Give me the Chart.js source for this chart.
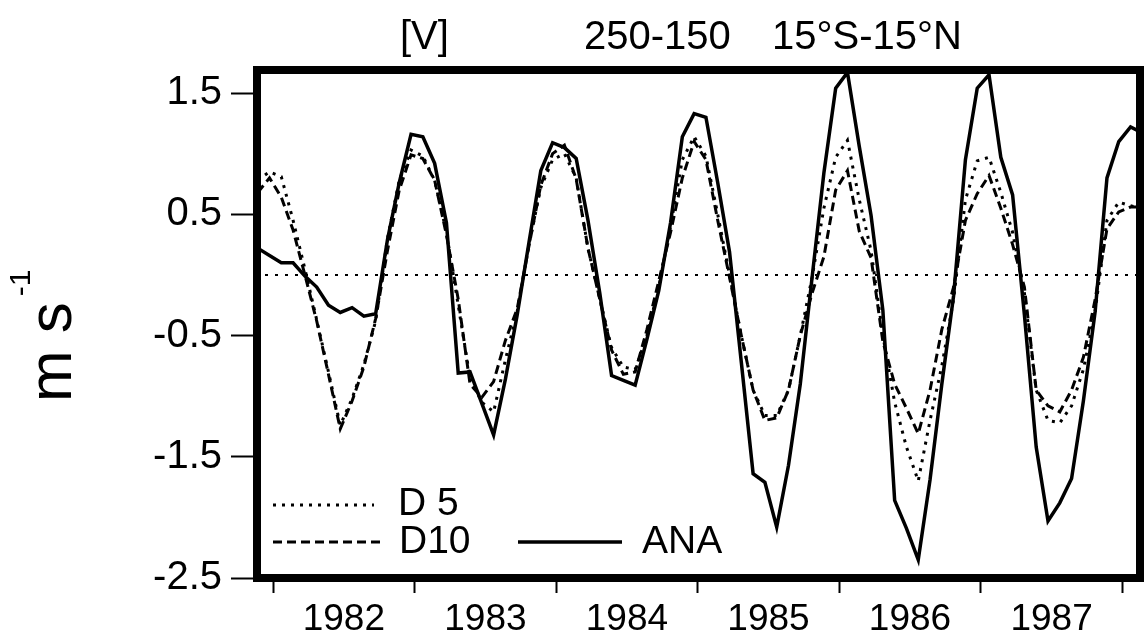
<!DOCTYPE html>
<html><head><meta charset="utf-8">
<script src="https://cdn.jsdelivr.net/npm/chart.js@4/dist/chart.umd.min.js"></script>
<style>html,body{margin:0;padding:0;background:#fff;}#wrap{width:1145px;height:641px;}</style>
</head><body><div id="wrap"><canvas id="c" width="1145" height="641"></canvas></div>
<script>
// months counted from January 1982; first value is November 1981
const startMonth = -2;
const ana = [0.22,0.16,0.10,0.10,-0.01,-0.10,-0.25,-0.31,-0.27,-0.34,-0.32,0.29,0.76,1.16,1.14,0.92,0.43,-0.81,-0.80,-1.06,-1.32,-0.86,-0.33,0.27,0.86,1.09,1.05,0.96,0.45,-0.15,-0.83,-0.87,-0.91,-0.53,-0.13,0.43,1.14,1.33,1.30,0.76,0.19,-0.72,-1.64,-1.71,-2.08,-1.57,-0.90,-0.02,0.84,1.54,1.67,1.06,0.49,-0.29,-1.86,-2.09,-2.35,-1.69,-0.90,-0.17,0.95,1.54,1.65,0.97,0.66,-0.33,-1.42,-2.03,-1.88,-1.68,-1.04,-0.30,0.80,1.10,1.22,1.17];
const d5 = [0.78,0.85,0.81,0.45,0.05,-0.37,-0.80,-1.24,-1.02,-0.74,-0.38,0.30,0.78,1.03,0.98,0.78,0.35,-0.25,-0.85,-1.05,-1.13,-0.70,-0.30,0.25,0.72,0.95,1.00,0.80,0.22,-0.20,-0.60,-0.76,-0.78,-0.50,-0.10,0.40,0.95,1.14,0.98,0.50,0.00,-0.50,-0.95,-1.16,-1.16,-0.95,-0.50,-0.02,0.55,0.97,1.11,0.62,0.20,-0.50,-1.05,-1.42,-1.70,-1.20,-0.75,-0.20,0.62,0.94,0.97,0.68,0.35,-0.15,-0.95,-1.20,-1.22,-1.08,-0.78,-0.30,0.45,0.60,0.57,0.55];
const d10 = [0.68,0.80,0.64,0.37,0.00,-0.38,-0.82,-1.27,-1.04,-0.76,-0.36,0.20,0.70,0.99,0.96,0.78,0.33,-0.20,-0.90,-1.01,-0.88,-0.54,-0.28,0.24,0.74,1.00,1.07,0.79,0.22,-0.20,-0.62,-0.82,-0.80,-0.45,-0.05,0.35,0.80,1.10,0.95,0.45,-0.02,-0.50,-0.95,-1.20,-1.18,-0.95,-0.50,-0.15,0.15,0.70,0.86,0.36,0.14,-0.55,-0.90,-1.10,-1.31,-0.95,-0.45,-0.10,0.45,0.67,0.82,0.55,0.25,-0.10,-0.95,-1.08,-1.13,-0.95,-0.68,-0.20,0.38,0.52,0.56,0.56];
const seriesNames = ['D 5','D10','ANA'];
const yearTicks = [0,12,24,36,48,60,72];
const yearLabels = ['1982','1983','1984','1985','1986','1987'];
const yTicks = [-2.5,-1.5,-0.5,0.5,1.5];
const titleParts = ['[V]','250-150','15°S-15°N'];
const yTitle = 'm s';
const yTitleSup = '-1';

const FONT = '"Liberation Sans", Arial, Helvetica, sans-serif';
const toXY = arr => arr.map((v,i) => ({x: startMonth + i + 0.7, y: v}));

const styles = [
  {dash:[3,6], width:3},
  {dash:[9,5], width:3},
  {dash:[], width:3.5}
];

const decor = {
  id:'decor',
  beforeDatasetsDraw(chart){
    const {ctx, chartArea:a, scales:{y}} = chart;
    const y0 = y.getPixelForValue(0);
    ctx.save();
    ctx.strokeStyle='#000'; ctx.lineWidth=2; ctx.setLineDash([3,7]);
    ctx.beginPath(); ctx.moveTo(a.left+8,y0); ctx.lineTo(a.right,y0); ctx.stroke();
    ctx.restore();
  },
  afterDatasetsDraw(chart){
    const {ctx, chartArea:a} = chart;
    ctx.save();
    ctx.strokeStyle='#000'; ctx.lineWidth=8; ctx.setLineDash([]);
    ctx.strokeRect(a.left, a.top, a.right-a.left, a.bottom-a.top);
    // legend
    const legend = [
      {x1:273,x2:374,y:505,tx:398,ty:515,s:styles[0],t:seriesNames[0]},
      {x1:273,x2:380,y:542,tx:399,ty:553,s:styles[1],t:seriesNames[1]},
      {x1:518,x2:622,y:542,tx:642,ty:553,s:styles[2],t:seriesNames[2]}
    ];
    ctx.fillStyle='#000';
    ctx.font='39px '+FONT; ctx.textBaseline='alphabetic'; ctx.textAlign='left';
    legend.forEach(l=>{
      ctx.lineWidth=l.s.width; ctx.setLineDash(l.s.dash);
      ctx.beginPath(); ctx.moveTo(l.x1,l.y); ctx.lineTo(l.x2,l.y); ctx.stroke();
      ctx.setLineDash([]);
      ctx.fillText(l.t, l.tx, l.ty);
    });
    // title
    ctx.font='40px '+FONT;
    ctx.fillText(titleParts[0], 400, 49);
    ctx.fillText(titleParts[1], 584, 49);
    ctx.fillText(titleParts[2], 772, 49);
    // y title
    ctx.save();
    ctx.translate(71, 402); ctx.rotate(-Math.PI/2);
    ctx.font='62px '+FONT; ctx.fillText(yTitle, 0, 0);
    const w = ctx.measureText(yTitle).width;
    ctx.font='30px '+FONT; ctx.fillText(yTitleSup, w+6, -41);
    ctx.restore();
    ctx.restore();
  }
};

new Chart(document.getElementById('c'), {
  type:'line',
  data:{datasets:[d5,d10,ana].map((arr,i)=>({
    label: seriesNames[i], data: toXY(arr),
    borderColor:'#000', borderWidth: styles[i].width, borderDash: styles[i].dash,
    pointRadius:0, tension:0, fill:false
  }))},
  options:{
    responsive:false, animation:false, devicePixelRatio:1,
    layout:{padding:{left:0,right:5,top:70,bottom:0}},
    plugins:{legend:{display:false}, title:{display:false}, tooltip:{enabled:false}},
    scales:{
      x:{type:'linear', min:-1.36, max:73.5,
        afterBuildTicks(s){ s.ticks = yearTicks.map(v=>({value:v})); },
        afterFit(s){ s.height = 63; },
        border:{display:false},
        grid:{drawOnChartArea:false, drawTicks:true, tickLength:15, tickWidth:2, color:'#000'},
        ticks:{autoSkip:false, maxRotation:0, padding:5, labelOffset:70.8, color:'#000',
          font:{family:FONT, size:37},
          callback:(v,i)=> yearLabels[i] || ''}
      },
      y:{type:'linear', min:-2.5, max:1.69,
        afterBuildTicks(s){ s.ticks = yTicks.map(v=>({value:v})); },
        afterFit(s){ s.width = 257; },
        border:{display:false},
        grid:{drawOnChartArea:false, drawTicks:true, tickLength:26, tickWidth:2, color:'#000'},
        ticks:{padding:9, color:'#000', font:{family:FONT, size:40},
          callback:v=> v.toFixed(1)}
      }
    }
  },
  plugins:[decor]
});
</script></body></html>
